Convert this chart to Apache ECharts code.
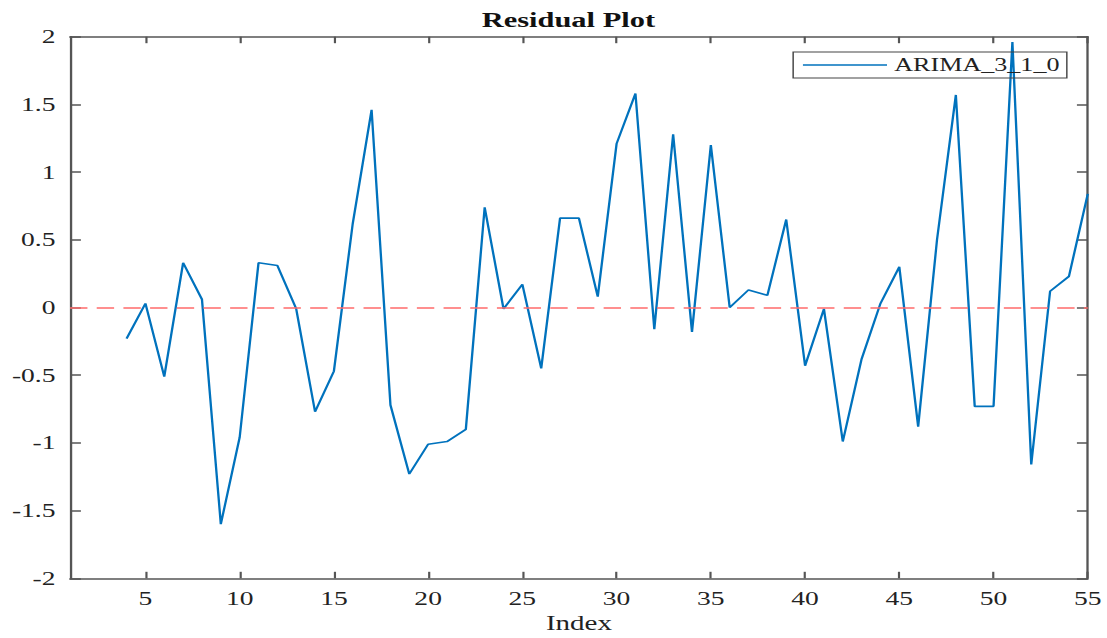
<!DOCTYPE html>
<html>
<head>
<meta charset="utf-8">
<title>Residual Plot</title>
<script src="https://cdn.jsdelivr.net/npm/echarts@6/dist/echarts.min.js"></script>
<style>
  html, body { margin: 0; padding: 0; background: #fff; overflow: hidden; }
  #chart { height: 638px; transform-origin: 0 0; }
</style>
</head>
<body>
<div id="chart"></div>
<script>
// Observation index and ARIMA(3,1,0) residual at each index
const obsIndex = [4, 5, 6, 7, 8, 9, 10, 11, 12, 13, 14, 15, 16, 17, 18, 19, 20, 21, 22, 23,
  24, 25, 26, 27, 28, 29, 30, 31, 32, 33, 34, 35, 36, 37, 38, 39, 40, 41, 42, 43,
  44, 45, 46, 47, 48, 49, 50, 51, 52, 53, 54, 55];
const residuals = [-0.23, 0.03, -0.51, 0.33, 0.06, -1.60, -0.96, 0.33, 0.31, -0.01,
  -0.77, -0.47, 0.62, 1.46, -0.72, -1.23, -1.01, -0.99, -0.90, 0.74,
  -0.01, 0.17, -0.45, 0.66, 0.66, 0.08, 1.21, 1.58, -0.16, 1.28,
  -0.18, 1.20, 0.00, 0.13, 0.09, 0.65, -0.43, -0.01, -0.99, -0.38,
  0.03, 0.30, -0.88, 0.50, 1.57, -0.73, -0.73, 1.96, -1.16, 0.12,
  0.23, 0.84];
const xTicks = [5, 10, 15, 20, 25, 30, 35, 40, 45, 50, 55];
const seriesName = 'ARIMA_3_1_0';

// The figure is drawn narrower and widened horizontally, like the exported plot
const STRETCH = 1.45;
const el = document.getElementById('chart');
el.style.width = (1107 / STRETCH) + 'px';
el.style.transform = 'scaleX(' + STRETCH + ')';

const FONT = "'Liberation Serif', 'Times New Roman', serif";
const AXIS_COLOR = '#555';
const TEXT_COLOR = '#222';
const LINE_COLOR = '#0072BD';

const chart = echarts.init(el, null, { renderer: 'svg' });

const frameX = {
  type: 'value', min: 1, max: 55,
  axisLine: { show: true, onZero: false, lineStyle: { color: AXIS_COLOR, width: 1.6 } },
  axisTick: { show: true, inside: true, length: 6.5, customValues: xTicks,
    lineStyle: { color: AXIS_COLOR, width: 1.5 } },
  splitLine: { show: false }
};
const frameY = {
  type: 'value', min: -2, max: 2, interval: 0.5,
  axisLine: { show: true, onZero: false, lineStyle: { color: AXIS_COLOR, width: 1.6 } },
  axisTick: { show: true, inside: true, length: 7.5, lineStyle: { color: AXIS_COLOR, width: 1.5 } },
  splitLine: { show: false }
};

chart.setOption({
  animation: false,
  backgroundColor: '#fff',
  title: {
    text: 'Residual Plot',
    left: 392, top: 10, textAlign: 'center', padding: 0,
    textStyle: { fontFamily: FONT, fontSize: 21, fontWeight: 'bold', color: '#111' }
  },
  legend: {
    left: 547, top: 52,
    padding: [4, 5, 4, 6],
    itemWidth: 58, itemHeight: 14,
    borderColor: '#444', borderWidth: 1, borderRadius: 0,
    backgroundColor: 'transparent',
    itemStyle: { opacity: 0 },
    lineStyle: { color: LINE_COLOR, width: 1.5 },
    textStyle: { fontFamily: FONT, fontSize: 18, color: TEXT_COLOR },
    data: [seriesName]
  },
  grid: { left: 48.3, right: 12.8, top: 36.7, bottom: 59.7, containLabel: false, outerBoundsMode: 'none' },
  xAxis: [
    Object.assign({}, frameX, {
      position: 'bottom',
      name: 'Index', nameLocation: 'middle', nameGap: 34,
      nameTextStyle: { fontFamily: FONT, fontSize: 20, color: TEXT_COLOR },
      axisLabel: { show: true, margin: 11, customValues: xTicks,
        fontFamily: FONT, fontSize: 19, color: TEXT_COLOR }
    }),
    Object.assign({}, frameX, { position: 'top', axisLabel: { show: false } })
  ],
  yAxis: [
    Object.assign({}, frameY, {
      position: 'left',
      axisLabel: { show: true, margin: 10, fontFamily: FONT, fontSize: 19, color: TEXT_COLOR }
    }),
    Object.assign({}, frameY, { position: 'right', axisLabel: { show: false } })
  ],
  series: [{
    name: seriesName,
    type: 'line',
    xAxisIndex: 0, yAxisIndex: 0,
    data: obsIndex.map((x, k) => [x, residuals[k]]),
    symbol: 'none',
    lineStyle: { color: LINE_COLOR, width: 1.6 },
    itemStyle: { color: LINE_COLOR },
    markLine: {
      silent: true,
      symbol: 'none',
      label: { show: false },
      lineStyle: { color: '#ff6b6b', type: [12, 6.4], width: 1.6 },
      data: [{ yAxis: 0 }]
    },
    z: 3
  }]
});
</script>
</body>
</html>
